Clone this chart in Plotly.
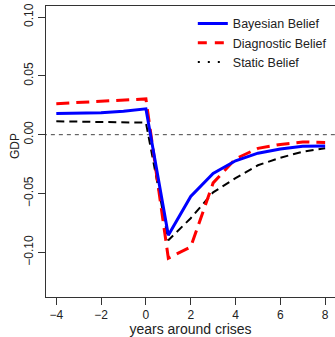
import plotly.graph_objects as go

years = [-4, -3, -2, -1, 0, 1, 2, 3, 4, 5, 6, 7, 8]
bayesian = [0.018, 0.0183, 0.0186, 0.020, 0.022, -0.0855, -0.0525, -0.033, -0.0222, -0.0157, -0.0122, -0.0099, -0.0096]
diagnostic = [0.0264, 0.0274, 0.0284, 0.0294, 0.0304, -0.105, -0.0954, -0.041, -0.0205, -0.0116, -0.0083, -0.0062, -0.0066]
static = [0.0114, 0.0111, 0.0108, 0.0105, 0.0102, -0.0897, -0.071, -0.049, -0.037, -0.026, -0.0196, -0.0145, -0.0116]
series_names = ["Bayesian Belief", "Diagnostic Belief", "Static Belief"]
x_ticks = [-4, -2, 0, 2, 4, 6, 8]
y_ticks = [-0.10, -0.05, 0.00, 0.05, 0.10]

fig = go.Figure()
# zero reference line
fig.add_trace(go.Scatter(x=[-4.6, 8.6], y=[0, 0], mode="lines",
                         line=dict(color="#444444", width=1, dash="4px,4px"),
                         showlegend=False, hoverinfo="skip"))
fig.add_trace(go.Scatter(x=years, y=static, mode="lines",
                         line=dict(color="black", width=2, dash="8px,5px"),
                         showlegend=False))
fig.add_trace(go.Scatter(x=years, y=diagnostic, mode="lines",
                         line=dict(color="#ff0000", width=3, dash="13px,7px"),
                         showlegend=False))
fig.add_trace(go.Scatter(x=years, y=bayesian, mode="lines",
                         line=dict(color="#0000ff", width=3),
                         showlegend=False))
# legend entries
legend_styles = [dict(color="#0000ff", width=3),
                 dict(color="#ff0000", width=3, dash="9px,8px"),
                 dict(color="black", width=2, dash="2px,8px")]
for name, st in zip(series_names, legend_styles):
    fig.add_trace(go.Scatter(x=[None], y=[None], mode="lines", name=name,
                             line=st, showlegend=True))

fig.update_layout(
    width=335, height=337,
    margin=dict(l=46, r=0, t=6, b=40),
    paper_bgcolor="white", plot_bgcolor="white",
    font=dict(family="Liberation Sans, Arial, sans-serif", size=12, color="#222222"),
    showlegend=True,
    legend=dict(x=0.508, y=0.99, xanchor="left", yanchor="top",
                bgcolor="rgba(0,0,0,0)", font=dict(size=12.5),
                itemwidth=30, tracegroupgap=0),
    annotations=[dict(text="GDP", textangle=-90, xref="paper", yref="paper",
                      x=-0.107, y=0.519, xanchor="center", yanchor="middle",
                      showarrow=False, font=dict(size=12))],
)
fig.update_xaxes(range=[-4.46, 8.44], tickvals=x_ticks,
                 ticktext=[str(v).replace("-", "\u2212") for v in x_ticks],
                 ticks="outside", ticklen=7, tickcolor="#333333",
                 showline=True, linecolor="#333333", linewidth=1, mirror=True,
                 showgrid=False, zeroline=False,
                 title=dict(text="years around crises", standoff=2))
fig.update_yaxes(range=[-0.138, 0.1094], tickvals=y_ticks,
                 ticktext=[f"{v:.2f}".replace("-", "\u2212") for v in y_ticks],
                 tickangle=-90,
                 ticks="outside", ticklen=7, tickcolor="#333333",
                 showline=True, linecolor="#333333", linewidth=1, mirror=True,
                 showgrid=False, zeroline=False)

fig.write_html("out.html", config={"displayModeBar": False},
               post_script="document.body.style.margin='0';document.body.style.overflow='hidden';")
